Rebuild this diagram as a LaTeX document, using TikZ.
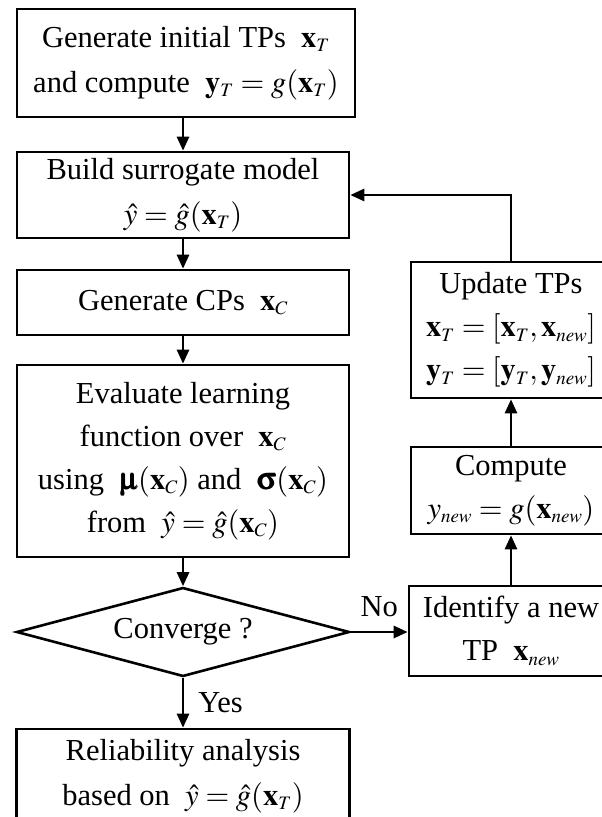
\documentclass[tikz,border=0pt]{standalone}
\usepackage{mathptmx}
\usepackage[Symbol]{upgreek}
\usepackage{bm}
\usepackage{fontspec}
\setmainfont{Liberation Serif}
\DeclareMathSizes{30.5}{30.5}{19}{15}
\usetikzlibrary{arrows.meta,positioning,shapes.geometric}

\begin{document}
\begin{tikzpicture}[
  x=1pt, y=-1pt,
  font=\fontsize{30.5}{43}\selectfont,
  box/.style={draw, line width=2.6pt, align=center, inner sep=0pt},
  dec/.style={draw, line width=2.6pt, diamond, aspect=3.7, inner sep=0pt},
  arr/.style={draw, line width=2.6pt, -{Triangle[length=14pt,width=12pt]}},
  lbl/.style={inner sep=2pt}
]
\clip (0,0) rectangle (602,817);
\node[box, minimum width=338pt, minimum height=108pt] (init) at (186,63)
  {Generate initial TPs \ $\mathbf{x}_T$\\[2pt]and compute \ $\mathbf{y}_T = g(\mathbf{x}_T)$};
\node[box, minimum width=332pt, minimum height=86pt] (surr) at (183,195)
  {Build surrogate model\\[2pt]$\hat{y} = \hat{g}(\mathbf{x}_T)$};
\node[box, minimum width=332pt, minimum height=65pt] (cps) at (183,302.5)
  {Generate CPs \ $\mathbf{x}_C$};
\node[box, minimum width=332pt, minimum height=192pt] (eval) at (183,461)
  {Evaluate learning\\function over \ $\mathbf{x}_C$\\using \ $\bm{\upmu}(\mathbf{x}_C)$ and \ $\bm{\upsigma}(\mathbf{x}_C)$\\from \ $\hat{y} = \hat{g}(\mathbf{x}_C)$};
\node[dec, minimum width=333pt, minimum height=89pt] (conv) at (183,632) {Converge ?};
\node[box, minimum width=333pt, minimum height=94pt] (rel) at (183,776)
  {Reliability analysis\\[2pt]based on \ $\hat{y} = \hat{g}(\mathbf{x}_T)$};
\node[box, minimum width=200pt, minimum height=136pt] (upd) at (511,330)
  {Update TPs\\$\mathbf{x}_T = [\mathbf{x}_T, \mathbf{x}_{new}]$\\$\mathbf{y}_T = [\mathbf{y}_T, \mathbf{y}_{new}]$};
\node[box, minimum width=200pt, minimum height=87pt] (comp) at (511,490.5)
  {Compute\\$y_{new} = g(\mathbf{x}_{new})$};
\node[box, minimum width=204pt, minimum height=90pt] (ident) at (511,631)
  {Identify a new\\TP \ $\mathbf{x}_{new}$};

\draw[arr] (surr.north |- init.south) -- (surr.north);
\draw[arr] (surr) -- (cps);
\draw[arr] (cps) -- (eval);
\draw[arr] (eval) -- (conv);
\draw[arr] (conv) -- node[lbl, right=12pt] {Yes} (rel);
\draw[arr] (conv.east) -- node[lbl, above=12pt] {No} (conv.east -| ident.west);
\draw[arr] (ident) -- (comp);
\draw[arr] (comp) -- (upd);
\draw[arr] (upd.north) |- (surr.east);
\end{tikzpicture}
\end{document}
